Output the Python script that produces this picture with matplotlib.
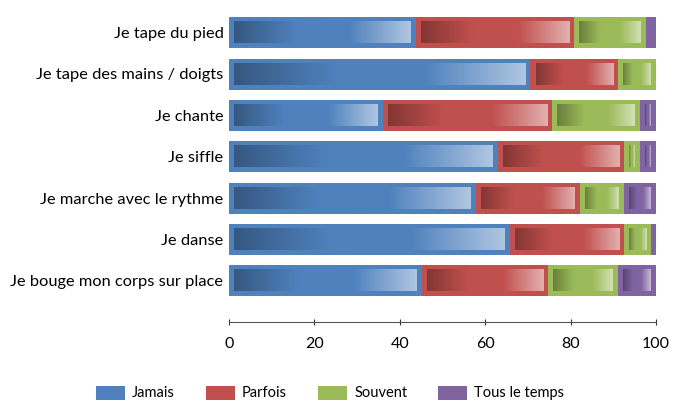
import numpy as np
import matplotlib
matplotlib.use("Agg")
import matplotlib.pyplot as plt
from matplotlib.colors import LinearSegmentedColormap, to_rgb
from matplotlib.patches import Patch

categories = ["Je tape du pied", "Je tape des mains / doigts", "Je chante",
              "Je siffle", "Je marche avec le rythme", "Je danse",
              "Je bouge mon corps sur place"]
jamais = [43.7, 70.6, 36.0, 62.9, 57.8, 65.7, 45.1]
parfois = [37.1, 20.5, 39.7, 29.6, 24.4, 26.8, 29.6]
souvent = [16.8, 8.9, 20.6, 3.7, 10.3, 6.4, 16.4]
tous_le_temps = [2.4, 0.0, 3.7, 3.8, 7.5, 1.1, 8.9]

series_names = ["Jamais", "Parfois", "Souvent", "Tous le temps"]
series_colors = ["#4F81BD", "#C0504D", "#9BBB59", "#8064A2"]

plt.rcParams['font.family'] = ['Lato', 'DejaVu Sans']

fig = plt.figure(figsize=(6.73, 4.03), dpi=100)
ax = fig.add_axes([229 / 673, 1 - 322 / 403, 427 / 673, 310 / 403])


def grad_cmap(color):
    base = np.array(to_rgb(color))
    dark = base * 0.68
    light = base + (1 - base) * 0.55
    return LinearSegmentedColormap.from_list(
        "g", [(0.0, dark), (0.35, base), (0.65, base), (1.0, light)])


bar_h = 0.75
inset_x = 1.2
inset_y = 0.12
ypos = np.arange(len(categories))
grad = np.linspace(0, 1, 256).reshape(1, -1)

left = np.zeros(len(categories))
for vals, col in zip([jamais, parfois, souvent, tous_le_temps], series_colors):
    vals = np.array(vals)
    ax.barh(ypos, vals, left=left, height=bar_h, color=col, linewidth=0)
    cmap = grad_cmap(col)
    for y, l, w in zip(ypos, left, vals):
        if w - 2 * inset_x > 0.4:
            ax.imshow(grad, cmap=cmap, aspect='auto', interpolation='bilinear',
                      extent=[l + inset_x, l + w - inset_x,
                              y + bar_h / 2 - inset_y, y - bar_h / 2 + inset_y],
                      zorder=3)
    left = left + vals

ax.set_xlim(0, 100)
ax.set_ylim(7.0, -0.5)
ax.set_yticks(ypos)
ax.set_yticklabels(categories, fontsize=11.8, color="#000000")
ax.set_xticks([0, 20, 40, 60, 80, 100])
ax.tick_params(axis='y', length=0, pad=4)
ax.tick_params(axis='x', direction='inout', length=5, width=0.8,
               color="#333333", labelsize=11.5, pad=8)
for s in ['top', 'right', 'left']:
    ax.spines[s].set_visible(False)
ax.spines['bottom'].set_color("#555555")
ax.spines['bottom'].set_linewidth(0.8)

handles = [Patch(facecolor=c, edgecolor='none') for c in series_colors]
fig.legend(handles, series_names, loc='center', ncol=4, frameon=False,
           bbox_to_anchor=(330 / 673, 1 - 393 / 403), fontsize=10.5,
           handlelength=2.0, handleheight=1.1, columnspacing=2.1,
           handletextpad=0.5)

fig.savefig("out.png", dpi=100)
